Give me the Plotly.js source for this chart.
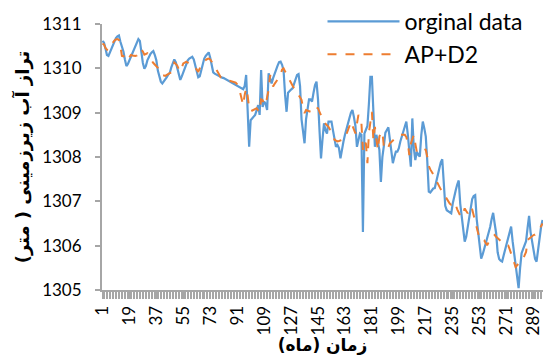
<!DOCTYPE html>
<html>
<head>
<meta charset="utf-8">
<script src="https://cdn.plot.ly/plotly-3.0.1.min.js"></script>
<style>html,body{margin:0;padding:0;background:#fff;}#chart{width:543px;height:360px;}</style>
</head>
<body>
<div id="chart"></div>
<script>
// ---- data ----
var originalData = [
1310.62,1310.58,1310.45,1310.30,1310.28,1310.36,1310.45,1310.52,1310.60,1310.68,
1310.72,1310.74,1310.60,1310.50,1310.38,1310.20,1310.05,1310.10,1310.18,1310.26,
1310.35,1310.42,1310.50,1310.58,1310.66,1310.62,1310.35,1310.12,1309.99,1310.05,
1310.18,1310.26,1310.32,1310.36,1310.39,1310.30,1310.18,1309.95,1309.80,1309.70,
1309.66,1309.70,1309.76,1309.80,1309.86,1309.90,1310.02,1310.14,1310.20,1310.14,
1310.02,1309.85,1309.74,1309.82,1309.92,1310.02,1310.12,1310.18,1310.22,1310.25,
1310.26,1310.20,1310.06,1309.92,1309.80,1309.82,1309.98,1310.14,1310.22,1310.28,
1310.32,1310.36,1310.24,1310.05,1309.91,1309.88,1309.86,1309.84,1309.82,1309.80,
1309.79,1309.78,1309.76,1309.74,1309.72,1309.70,1309.68,1309.67,1309.65,1309.63,
1309.61,1309.59,1309.57,1309.55,1309.53,1309.60,1309.85,1309.05,1308.23,1308.83,
1308.88,1308.92,1308.95,1309.05,1309.17,1308.95,1309.96,1309.13,1309.25,1309.20,
1309.06,1309.89,1309.75,1309.66,1309.78,1309.89,1309.98,1310.06,1310.14,1310.15,
1310.08,1309.95,1309.40,1309.02,1309.45,1309.50,1309.52,1309.55,1309.65,1309.75,
1309.85,1309.87,1309.60,1308.85,1308.50,1308.31,1308.85,1309.10,1309.30,1309.30,
1309.25,1309.45,1309.62,1309.70,1309.30,1308.60,1307.97,1308.40,1308.76,1308.60,
1308.53,1308.80,1308.80,1308.80,1308.60,1308.40,1308.23,1308.27,1308.20,1307.97,
1308.20,1308.35,1308.50,1308.65,1308.75,1308.88,1309.00,1309.06,1308.90,1308.70,
1308.23,1308.40,1308.53,1308.50,1306.31,1308.53,1308.60,1308.70,1309.20,1309.81,
1309.81,1309.00,1308.23,1308.50,1308.30,1308.16,1307.44,1308.00,1308.25,1308.55,
1308.61,1308.67,1308.40,1308.10,1307.86,1308.00,1308.12,1308.12,1308.20,1308.35,
1308.46,1308.58,1308.70,1308.80,1308.50,1308.20,1307.78,1308.87,1308.20,1307.93,
1308.12,1308.05,1308.01,1308.50,1308.80,1308.65,1308.46,1307.90,1307.22,1307.20,
1307.24,1307.29,1307.30,1307.45,1307.60,1307.75,1307.88,1307.95,1307.40,1306.90,
1306.80,1306.78,1306.76,1306.73,1306.95,1307.14,1307.25,1307.38,1307.47,1306.95,
1306.65,1306.35,1306.09,1306.20,1306.40,1306.62,1306.85,1307.05,1307.12,1307.14,
1306.60,1306.25,1305.95,1305.71,1305.80,1305.92,1306.01,1306.15,1306.28,1306.42,
1306.60,1306.74,1306.50,1306.28,1305.85,1305.70,1305.66,1305.64,1305.78,1305.92,
1306.05,1306.18,1306.30,1306.43,1306.10,1305.80,1305.50,1305.20,1305.04,1305.50,
1305.83,1305.92,1306.02,1306.10,1306.40,1306.67,1306.30,1306.10,1305.85,1305.70,
1305.64,1305.90,1306.25,1306.42,1306.58
];
var apD2 = [
1310.56,1310.54,1310.46,1310.42,1310.41,1310.48,1310.53,1310.58,1310.63,1310.65,
1310.66,1310.64,1310.50,1310.28,1310.27,1310.30,1310.22,1310.20,1310.26,1310.30,
1310.29,1310.28,1310.28,1310.29,1310.36,1310.43,1310.42,1310.38,1310.31,1310.32,
1310.34,1310.30,1310.22,1310.17,1310.12,1310.09,1310.05,1310.01,1309.93,1309.87,
1309.85,1309.84,1309.83,1309.85,1309.87,1309.89,1309.91,1310.00,1310.13,1310.10,
1310.06,1309.98,1309.93,1310.02,1310.11,1310.13,1310.15,1310.13,1310.11,1310.09,
1310.07,1310.05,1310.02,1309.97,1309.92,1310.00,1310.07,1310.12,1310.17,1310.20,
1310.21,1310.22,1310.20,1310.15,1310.08,1310.04,1309.98,1309.92,1309.86,1309.80,
1309.78,1309.76,1309.75,1309.74,1309.72,1309.72,1309.71,1309.71,1309.70,1309.68,
1309.64,1309.58,1309.45,1309.30,1309.17,1309.40,1309.55,1309.38,1309.10,1309.03,
1309.05,1309.06,1309.08,1309.10,1309.05,1309.02,1309.30,1309.28,1309.20,1309.17,
1309.35,1309.51,1309.85,1309.70,1309.59,1309.65,1309.70,1309.75,1309.80,1309.85,
1309.97,1310.00,1309.93,1309.89,1309.80,1309.73,1309.68,1309.62,1309.55,1309.46,
1309.42,1309.40,1309.35,1309.29,1309.10,1308.99,1309.06,1309.04,1309.03,1309.02,
1309.06,1309.13,1309.12,1309.11,1309.10,1309.02,1308.95,1308.85,1308.78,1308.75,
1308.72,1308.68,1308.62,1308.57,1308.48,1308.39,1308.37,1308.35,1308.36,1308.37,
1308.38,1308.40,1308.42,1308.50,1308.60,1308.70,1308.80,1308.70,1308.58,1308.53,
1308.75,1308.95,1308.85,1308.76,1308.16,1308.35,1308.30,1307.86,1308.55,1308.85,
1309.02,1308.38,1308.68,1308.40,1308.16,1308.46,1308.55,1308.57,1308.23,1308.20,
1308.16,1308.22,1308.31,1308.34,1308.38,1308.40,1308.43,1308.46,1308.48,1308.50,
1308.50,1308.50,1308.50,1308.45,1308.31,1308.04,1308.30,1308.40,1308.50,1308.30,
1308.12,1308.14,1308.16,1308.18,1308.20,1308.18,1308.16,1308.00,1307.80,1307.72,
1307.66,1307.63,1307.55,1307.47,1307.39,1307.32,1307.27,1307.22,1307.16,1307.12,
1307.05,1306.99,1306.95,1306.92,1306.94,1306.98,1306.92,1306.82,1306.74,1306.68,
1306.65,1306.75,1306.84,1306.78,1306.73,1306.80,1306.88,1306.82,1306.70,1306.55,
1306.43,1306.28,1306.14,1306.13,1306.13,1306.12,1306.06,1306.01,1306.08,1306.15,
1306.18,1306.21,1306.24,1306.20,1306.17,1306.14,1306.10,1306.07,1306.05,1306.04,
1306.03,1306.01,1305.92,1305.83,1305.75,1305.62,1305.52,1305.56,1305.60,1305.64,
1305.67,1305.71,1305.78,1305.86,1306.13,1306.16,1306.20,1306.22,1306.24,1306.25,
1306.29,1306.33,1306.36,1306.44,1306.50
];
var xTickVals = [1,19,37,55,73,91,109,127,145,163,181,199,217,235,253,271,289];
var xTickText = ["1","19","37","55","73","91","109","127","145","163","181","199","217","235","253","271","289"];
var yTickVals = [1305,1306,1307,1308,1309,1310,1311];
var seriesNames = ["orginal data", "AP+D2"];
var xTitle = "زمان (ماه)";
var yTitle = "تراز آب زیرزمینی ( متر)";

var months = [];
for (var i = 0; i < originalData.length; i++) months.push(i + 1);

var traces = [
  {x: months, y: originalData, type: 'scatter', mode: 'lines', name: seriesNames[0],
   legendgroup: 'a', line: {color: '#5B9BD5', width: 2.2}},
  {x: months, y: apD2, type: 'scatter', mode: 'lines', name: seriesNames[1],
   legendgroup: 'b', line: {color: '#ED7D31', width: 2, dash: 'dash'}}
];

var tickFont = {family: 'Lato, Calibri, sans-serif', size: 17, color: '#000'};
var layout = {
  width: 543, height: 360,
  margin: {l: 102, r: 0, t: 24, b: 70, pad: 0, autoexpand: false},
  paper_bgcolor: '#fff', plot_bgcolor: '#fff',
  showlegend: true,
  legend: {x: 0.50, xanchor: 'left', yref: 'container', y: 1.005, yanchor: 'top', bgcolor: 'rgba(0,0,0,0)',
           font: {family: 'Lato, Calibri, sans-serif', size: 23, color: '#000'},
           itemwidth: 72, tracegroupgap: 0},
  xaxis: {
    range: [0.7, 295.3], tickmode: 'array', tickvals: xTickVals, ticktext: xTickText,
    tickangle: -90, tickfont: tickFont, showgrid: false, zeroline: false,
    ticklabeloverflow: 'allow',
    showline: true, linecolor: '#A6A6A6', linewidth: 2,
    ticks: 'outside', ticklen: 7, tickcolor: '#A6A6A6', tickwidth: 1,
    minor: {dtick: 1, tick0: 0.5, ticks: 'outside', ticklen: 7, tickcolor: '#A6A6A6', tickwidth: 1, showgrid: false},
    title: {text: xTitle, font: {family: 'DejaVu Sans', size: 17, color: '#000', weight: 'bold'}, standoff: 0}
  },
  yaxis: {
    range: [1305, 1311], tickmode: 'array', tickvals: yTickVals,
    tickfont: tickFont, showgrid: false, zeroline: false,
    showline: true, linecolor: '#A6A6A6', linewidth: 2,
    ticks: 'outside', ticklen: 5, tickcolor: '#A6A6A6', tickwidth: 2,
    ticklabelstandoff: 10,
    title: {text: yTitle, font: {family: 'DejaVu Sans', size: 18, color: '#000', weight: 'bold'}, standoff: 8}
  }
};
Plotly.newPlot('chart', traces, layout, {displayModeBar: false, staticPlot: true});
</script>
</body>
</html>
